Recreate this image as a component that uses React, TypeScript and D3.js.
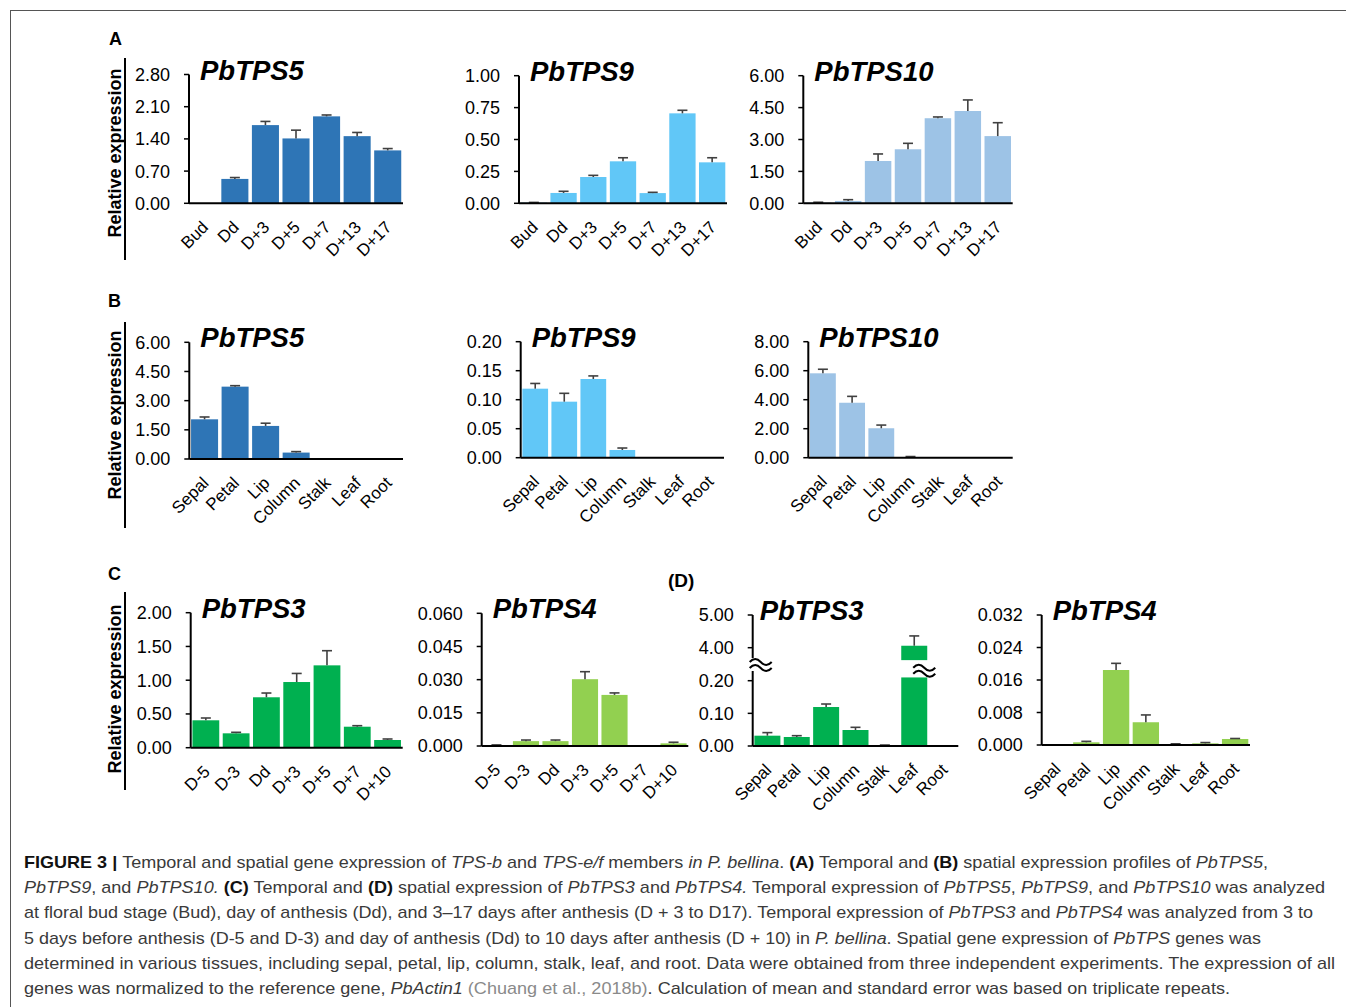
import React from "react";
import * as d3 from "d3";

const FONT = "'Liberation Sans', Arial, Helvetica, sans-serif";

// ---------- categories ----------
const budCats = ["Bud", "Dd", "D+3", "D+5", "D+7", "D+13", "D+17"];
const tissueCats = ["Sepal", "Petal", "Lip", "Column", "Stalk", "Leaf", "Root"];
const preCats = ["D-5", "D-3", "Dd", "D+3", "D+5", "D+7", "D+10"];

// ---------- (A) temporal ----------
const aTps5Mean = [0, 0.53, 1.7, 1.41, 1.89, 1.46, 1.15];
const aTps5Err = [0, 0.03, 0.08, 0.18, 0.03, 0.08, 0.04];
const aTps9Mean = [0.005, 0.081, 0.206, 0.329, 0.08, 0.705, 0.321];
const aTps9Err = [0.002, 0.013, 0.013, 0.028, 0.006, 0.024, 0.036];
const aTps10Mean = [0.03, 0.11, 1.99, 2.54, 4.0, 4.34, 3.16];
const aTps10Err = [0.02, 0.06, 0.33, 0.28, 0.06, 0.52, 0.63];

// ---------- (B) spatial ----------
const bTps5Mean = [2.04, 3.72, 1.7, 0.33, 0, 0, 0];
const bTps5Err = [0.12, 0.05, 0.14, 0.05, 0, 0, 0];
const bTps9Mean = [0.119, 0.0966, 0.1357, 0.0133, 0, 0, 0];
const bTps9Err = [0.009, 0.0144, 0.0053, 0.0034, 0, 0, 0];
const bTps10Mean = [5.82, 3.79, 2.03, 0.05, 0, 0, 0];
const bTps10Err = [0.28, 0.44, 0.22, 0.03, 0, 0, 0];

// ---------- (C) temporal ----------
const cTps3Mean = [0.406, 0.213, 0.747, 0.973, 1.22, 0.311, 0.114];
const cTps3Err = [0.034, 0.015, 0.063, 0.127, 0.217, 0.015, 0.015];
const cTps4Mean = [0.0003, 0.0022, 0.0022, 0.0302, 0.0231, 0, 0.0012];
const cTps4Err = [0.0002, 0.0005, 0.0005, 0.0034, 0.0009, 0, 0.0005];

// ---------- (D) spatial ----------
const dTps3Mean = [0.0316, 0.0276, 0.1194, 0.049, 0.002, 4.06, 0];
const dTps3Err = [0.0094, 0.004, 0.0092, 0.0082, 0.001, 0.3, 0];
const dTps4Mean = [0, 0.00066, 0.01846, 0.0056, 0.0002, 0.0004, 0.00148];
const dTps4Err = [0, 0.00024, 0.00164, 0.0018, 0.0001, 0.0002, 0.00012];

// ---------- ticks ----------
const ticksA5 = [0, 0.7, 1.4, 2.1, 2.8];
const ticksA9 = [0, 0.25, 0.5, 0.75, 1.0];
const ticksA10 = [0, 1.5, 3.0, 4.5, 6.0];
const ticksB5 = [0, 1.5, 3.0, 4.5, 6.0];
const ticksB9 = [0, 0.05, 0.1, 0.15, 0.2];
const ticksB10 = [0, 2, 4, 6, 8];
const ticksC3 = [0, 0.5, 1.0, 1.5, 2.0];
const ticksC4 = [0, 0.015, 0.03, 0.045, 0.06];
const ticksD3Low = [0, 0.1, 0.2];
const ticksD3High = [4, 5];
const ticksD4 = [0, 0.008, 0.016, 0.024, 0.032];

const C_TPS5 = "#2E75B6";
const C_TPS9 = "#61C7F7";
const C_TPS10 = "#9DC3E6";
const C_TPS3 = "#00B050";
const C_TPS4 = "#92D050";
const ERR = "#404040";

type PanelProps = {
  x0: number; x1: number; yTop: number; yBot: number;
  cats: string[]; means: number[]; errs: number[];
  ticks: number[]; fmt: string; color: string; title: string;
};

function band(cats: string[], x0: number, x1: number) {
  return d3.scaleBand<string>().domain(cats).range([x0, x1]).paddingInner(0.115).paddingOuter(0.0575);
}

function XLabels({ x, cats, yBot }: { x: d3.ScaleBand<string>; cats: string[]; yBot: number }) {
  return (
    <g>
      {cats.map((c) => {
        const cx = (x(c) as number) + x.bandwidth() / 2;
        return (
          <text key={c} transform={`translate(${cx + 5},${yBot + 25}) rotate(-45)`} textAnchor="end"
            fontSize={17} fontFamily={FONT} fill="#000">{c}</text>
        );
      })}
    </g>
  );
}

function ErrBar({ cx, y0, y1 }: { cx: number; y0: number; y1: number }) {
  return (
    <g stroke={ERR} strokeWidth={1.6}>
      <line x1={cx} x2={cx} y1={y0} y2={y1} />
      <line x1={cx - 5} x2={cx + 5} y1={y1} y2={y1} />
    </g>
  );
}

function Title({ x, y, t }: { x: number; y: number; t: string }) {
  return (
    <text x={x} y={y} fontSize={27.5} fontWeight="bold" fontStyle="italic" fontFamily={FONT} fill="#000">{t}</text>
  );
}

function BarPanel(p: PanelProps) {
  const x = band(p.cats, p.x0, p.x1);
  const y = d3.scaleLinear().domain([p.ticks[0], p.ticks[p.ticks.length - 1]]).range([p.yBot, p.yTop]);
  const f = d3.format(p.fmt);
  return (
    <g>
      {p.cats.map((c, i) => {
        const v = p.means[i];
        const bx = x(c) as number;
        return <rect key={c} x={bx} width={x.bandwidth()} y={y(v)} height={p.yBot - y(v)} fill={p.color} />;
      })}
      {p.cats.map((c, i) => {
        if (!(p.errs[i] > 0)) return null;
        const cx = (x(c) as number) + x.bandwidth() / 2;
        return <ErrBar key={c} cx={cx} y0={y(p.means[i])} y1={y(p.means[i] + p.errs[i])} />;
      })}
      <line x1={p.x0} x2={p.x0} y1={p.yTop} y2={p.yBot} stroke="#000" strokeWidth={2} />
      <line x1={p.x0} x2={p.x1} y1={p.yBot} y2={p.yBot} stroke="#000" strokeWidth={2} />
      {p.ticks.map((t) => (
        <g key={t}>
          <line x1={p.x0 - 5} x2={p.x0} y1={y(t)} y2={y(t)} stroke="#000" strokeWidth={1.5} />
          <text x={p.x0 - 19} y={y(t)} dy="0.36em" textAnchor="end" fontSize={18} fontFamily={FONT} fill="#000">{f(t)}</text>
        </g>
      ))}
      <Title x={p.x0 + 11} y={p.yTop + 5} t={p.title} />
      <XLabels x={x} cats={p.cats} yBot={p.yBot} />
    </g>
  );
}

function Wave({ cx, cy }: { cx: number; cy: number }) {
  const w = (yy: number) => `M${cx - 11},${yy + 1} q5.5,-6 11,0 t11,0`;
  return (
    <g fill="none" stroke="#000" strokeWidth={2}>
      <path d={w(cy - 3)} />
      <path d={w(cy + 3)} />
    </g>
  );
}

function BrokenPanel() {
  const x0 = 752.7, x1 = 958.3, yBot = 746;
  const x = band(tissueCats, x0, x1);
  const yL = d3.scaleLinear().domain([0, 0.2]).range([yBot, 680.7]);
  const yH = d3.scaleLinear().domain([4, 5]).range([647.7, 615]);
  const lowCut = 0.21, highCut = 3.62;
  const f = d3.format(".2f");
  return (
    <g>
      {tissueCats.map((c, i) => {
        const v = dTps3Mean[i];
        const bx = x(c) as number;
        const bw = x.bandwidth();
        const cx = bx + bw / 2;
        if (v > lowCut) {
          return (
            <g key={c}>
              <rect x={bx} width={bw} y={yL(lowCut)} height={yBot - yL(lowCut)} fill={C_TPS3} />
              <rect x={bx} width={bw} y={yH(v)} height={yH(highCut) - yH(v)} fill={C_TPS3} />
              <ErrBar cx={cx} y0={yH(v)} y1={yH(v + dTps3Err[i])} />
              <Wave cx={cx + 10} cy={(yL(lowCut) + yH(highCut)) / 2 + 1} />
            </g>
          );
        }
        return (
          <g key={c}>
            <rect x={bx} width={bw} y={yL(v)} height={yBot - yL(v)} fill={C_TPS3} />
            {dTps3Err[i] > 0 ? <ErrBar cx={cx} y0={yL(v)} y1={yL(v + dTps3Err[i])} /> : null}
          </g>
        );
      })}
      <line x1={x0} x2={x0} y1={615} y2={658} stroke="#000" strokeWidth={2} />
      <line x1={x0} x2={x0} y1={671} y2={yBot} stroke="#000" strokeWidth={2} />
      <line x1={x0} x2={x1} y1={yBot} y2={yBot} stroke="#000" strokeWidth={2} />
      <Wave cx={x0 + 8} cy={664} />
      {ticksD3Low.map((t) => (
        <g key={"l" + t}>
          <line x1={x0 - 5} x2={x0} y1={yL(t)} y2={yL(t)} stroke="#000" strokeWidth={1.5} />
          <text x={x0 - 19} y={yL(t)} dy="0.36em" textAnchor="end" fontSize={18} fontFamily={FONT}>{f(t)}</text>
        </g>
      ))}
      {ticksD3High.map((t) => (
        <g key={"h" + t}>
          <line x1={x0 - 5} x2={x0} y1={yH(t)} y2={yH(t)} stroke="#000" strokeWidth={1.5} />
          <text x={x0 - 19} y={yH(t)} dy="0.36em" textAnchor="end" fontSize={18} fontFamily={FONT}>{f(t)}</text>
        </g>
      ))}
      <Title x={x0 + 7} y={620} t="PbTPS3" />
      <XLabels x={x} cats={tissueCats} yBot={yBot} />
    </g>
  );
}

function YLabel({ cy, y1, y2 }: { cy: number; y1: number; y2: number }) {
  return (
    <g>
      <text transform={`translate(121,${cy}) rotate(-90)`} textAnchor="middle" fontSize={18}
        fontWeight="bold" fontFamily={FONT} fill="#000">Relative expression</text>
      <line x1={125} x2={125} y1={y1} y2={y2} stroke="#000" strokeWidth={2} />
    </g>
  );
}

// ---------- caption ----------
type Seg = [string, string];
const captionLines: Seg[][] = [
  [["b", "FIGURE 3 | "], ["n", "Temporal and spatial gene expression of "], ["i", "TPS-b"], ["n", " and "], ["i", "TPS-e/f"], ["n", " members "], ["i", "in P. bellina"], ["n", ". "], ["b", "(A)"], ["n", " Temporal and "], ["b", "(B)"], ["n", " spatial expression profiles of "], ["i", "PbTPS5"], ["n", ","]],
  [["i", "PbTPS9"], ["n", ", and "], ["i", "PbTPS10."], ["n", " "], ["b", "(C)"], ["n", " Temporal and "], ["b", "(D)"], ["n", " spatial expression of "], ["i", "PbTPS3"], ["n", " and "], ["i", "PbTPS4."], ["n", " Temporal expression of "], ["i", "PbTPS5"], ["n", ", "], ["i", "PbTPS9"], ["n", ", and "], ["i", "PbTPS10"], ["n", " was analyzed"]],
  [["n", "at floral bud stage (Bud), day of anthesis (Dd), and 3–17 days after anthesis (D + 3 to D17). Temporal expression of "], ["i", "PbTPS3"], ["n", " and "], ["i", "PbTPS4"], ["n", " was analyzed from 3 to"]],
  [["n", "5 days before anthesis (D-5 and D-3) and day of anthesis (Dd) to 10 days after anthesis (D + 10) in "], ["i", "P. bellina"], ["n", ". Spatial gene expression of "], ["i", "PbTPS"], ["n", " genes was"]],
  [["n", "determined in various tissues, including sepal, petal, lip, column, stalk, leaf, and root. Data were obtained from three independent experiments. The expression of all"]],
  [["n", "genes was normalized to the reference gene, "], ["i", "PbActin1"], ["n", " "], ["g", "(Chuang et al., 2018b)"], ["n", ". Calculation of mean and standard error was based on triplicate repeats."]],
];
const captionEnds = [1268, 1325, 1313, 1261, 1335, 1230];

function Caption() {
  return (
    <g fontFamily={FONT} fontSize={17}>
      {captionLines.map((line, li) => (
        <text key={li} x={24} y={868 + li * 25.2} textLength={captionEnds[li] - 24} lengthAdjust="spacingAndGlyphs" fill="#3a3a3a">
          {line.map(([s, t], si) => (
            <tspan key={si}
              fontWeight={s === "b" ? "bold" : "normal"}
              fontStyle={s === "i" ? "italic" : "normal"}
              fill={s === "b" ? "#111" : s === "g" ? "#8a8a8a" : "#3a3a3a"}>{t}</tspan>
          ))}
        </text>
      ))}
    </g>
  );
}

export default function App() {
  return (
    <div style={{ position: "absolute", left: 0, top: 0 }}>
      <svg width={1346} height={1007} style={{ display: "block", background: "#fff" }}>
        <line x1={10} x2={1346} y1={10.5} y2={10.5} stroke="#555" strokeWidth={1} />
        <line x1={10.5} x2={10.5} y1={10} y2={1007} stroke="#555" strokeWidth={1} />

        {/* panel letters */}
        <text x={109} y={45} fontSize={18} fontWeight="bold" fontFamily={FONT}>A</text>
        <text x={108} y={307} fontSize={18} fontWeight="bold" fontFamily={FONT}>B</text>
        <text x={108} y={580} fontSize={18} fontWeight="bold" fontFamily={FONT}>C</text>
        <text x={668} y={587} fontSize={19} fontWeight="bold" fontFamily={FONT}>(D)</text>

        <YLabel cy={153} y1={58} y2={260} />
        <YLabel cy={415} y1={322} y2={528} />
        <YLabel cy={689} y1={592} y2={790} />

        {/* Row A */}
        <BarPanel x0={189} x1={403} yTop={74.5} yBot={203.3} cats={budCats} means={aTps5Mean} errs={aTps5Err} ticks={ticksA5} fmt=".2f" color={C_TPS5} title="PbTPS5" />
        <BarPanel x0={519} x1={727} yTop={75.7} yBot={203.3} cats={budCats} means={aTps9Mean} errs={aTps9Err} ticks={ticksA9} fmt=".2f" color={C_TPS9} title="PbTPS9" />
        <BarPanel x0={803.3} x1={1012.7} yTop={75.7} yBot={203.3} cats={budCats} means={aTps10Mean} errs={aTps10Err} ticks={ticksA10} fmt=".2f" color={C_TPS10} title="PbTPS10" />

        {/* Row B */}
        <BarPanel x0={189.3} x1={403} yTop={342.3} yBot={459} cats={tissueCats} means={bTps5Mean} errs={bTps5Err} ticks={ticksB5} fmt=".2f" color={C_TPS5} title="PbTPS5" />
        <BarPanel x0={520.7} x1={724} yTop={341.7} yBot={457.7} cats={tissueCats} means={bTps9Mean} errs={bTps9Err} ticks={ticksB9} fmt=".2f" color={C_TPS9} title="PbTPS9" />
        <BarPanel x0={808.3} x1={1012.7} yTop={341.7} yBot={457.7} cats={tissueCats} means={bTps10Mean} errs={bTps10Err} ticks={ticksB10} fmt=".2f" color={C_TPS10} title="PbTPS10" />

        {/* Row C */}
        <BarPanel x0={190.7} x1={402.7} yTop={612.7} yBot={747.7} cats={preCats} means={cTps3Mean} errs={cTps3Err} ticks={ticksC3} fmt=".2f" color={C_TPS3} title="PbTPS3" />
        <BarPanel x0={481.7} x1={688.3} yTop={613.3} yBot={746} cats={preCats} means={cTps4Mean} errs={cTps4Err} ticks={ticksC4} fmt=".3f" color={C_TPS4} title="PbTPS4" />

        {/* Row D */}
        <BrokenPanel />
        <BarPanel x0={1041.7} x1={1250} yTop={615} yBot={745} cats={tissueCats} means={dTps4Mean} errs={dTps4Err} ticks={ticksD4} fmt=".3f" color={C_TPS4} title="PbTPS4" />

        <Caption />
      </svg>
    </div>
  );
}
